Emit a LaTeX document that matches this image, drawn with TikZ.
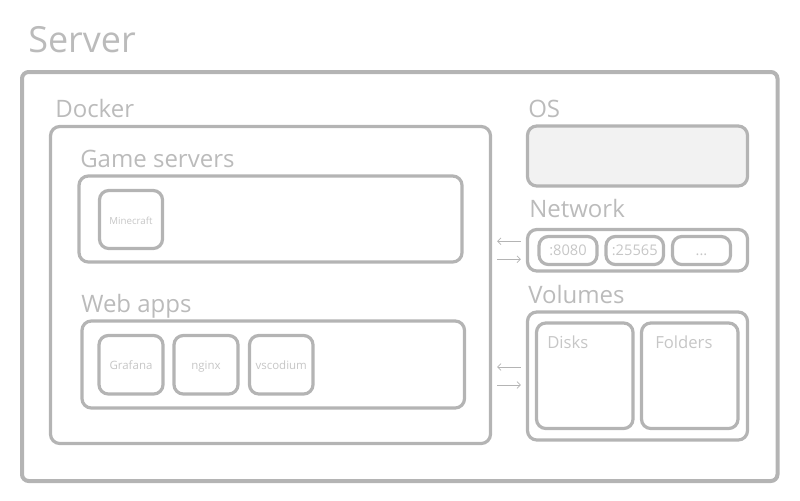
\documentclass[tikz,border=0pt]{standalone}
\usepackage{fontspec}
\setmainfont{Open Sans}
\usetikzlibrary{fit,calc,arrows.meta}

\definecolor{frame}{HTML}{B4B4B4}
\definecolor{label}{HTML}{BBBBBB}
\definecolor{smalltext}{HTML}{C6C6C6}
\definecolor{osfill}{HTML}{F2F2F2}

\tikzset{
  box/.style={draw=frame, line width=2.4pt, rounded corners=7pt, inner sep=0pt},
  title/.style={anchor=base west, inner sep=0pt, text=label, font=\fontsize{18}{20}\selectfont},
  applbl/.style={inner sep=0pt, text height=0.72em, text depth=0pt, text=smalltext, font=\fontsize{8.6}{10}\selectfont},
  portlbl/.style={applbl, font=\fontsize{11}{12}\selectfont},
  link/.style={draw=frame, line width=0.6pt, -{Straight Barb[length=2.5pt,width=5pt]}},
}

\begin{document}
\begin{tikzpicture}[x=0.75pt,y=0.75pt,yscale=-1,xscale=1]
            \useasboundingbox (0,0) rectangle (800,500); % set diagram size 800 x 500

            % Server
            \node (serverlbl) [title, font=\fontsize{27}{30}\selectfont] at (28,52) {Server}; % Text Node Server
            \node (server) [box, line width=3pt, rounded corners=5pt, fit={(22,72) (777.5,481)}] {}; % Outer frame

            % Docker
            \node (dockerlbl) [title] at (55,117) {Docker}; % Text Node Docker
            \node (docker) [box, fit={(50.5,126.5) (490.5,443.5)}] {}; % Frame

            % Game servers
            \node (gamelbl) [title] at (80,167) {Game servers}; % Text Node Game servers
            \node (game) [box, fit={(79,176) (462,262)}] {}; % Frame
            \node (minecraft) [box, fit={(99.5,190.5) (162.5,248.5)}] {};
            \node (minecraftlbl) [applbl, font=\fontsize{7.3}{8}\selectfont] at (minecraft) {Minecraft};

            % Web apps
            \node (weblbl) [title] at (81,312) {Web apps}; % Text Node Web apps
            \node (web) [box, fit={(82,321) (464.5,408)}] {}; % Frame
            \node (grafana) [box, fit={(99,335.5) (163,394)}] {};
            \node (nginx) [box, fit={(174,335.5) (238,394)}] {};
            \node (vscodium) [box, fit={(249.5,335.5) (313,394)}] {};
            \node (grafanalbl) [applbl] at (grafana) {Grafana};
            \node (nginxlbl) [applbl] at (nginx) {nginx};
            \node (vscodiumlbl) [applbl] at (vscodium) {vscodium};

            % OS
            \node (oslbl) [title] at (528,117) {OS}; % Text Node OS
            \node (os) [box, fill=osfill, fit={(527.5,126) (747.5,186)}] {}; % Frame

            % Network
            \node (netlbl) [title] at (529,217) {Network}; % Text Node Network
            \node (netbox) [box, fit={(527.5,229.5) (747.5,271)}] {}; % Frame
            \node (p8080) [box, fit={(539,236.5) (597,264.5)}] {};
            \node (p25565) [box, fit={(606,236.5) (663.5,264.5)}] {};
            \node (pmore) [box, fit={(672.5,236.5) (730.5,264.5)}] {};
            \node (p8080lbl) [portlbl] at (p8080) {:8080};
            \node (p25565lbl) [portlbl] at (p25565) {:25565};
            \node (pmorelbl) [portlbl] at (pmore) {...};

            % Volumes
            \node (vollbl) [title] at (528,303) {Volumes}; % Text Node Volumes
            \node (volbox) [box, fit={(527.5,312) (747.5,440)}] {}; % Frame
            \node (disks) [box, fit={(536.5,323) (633,428.5)}] {}; % Disks
            \node (folders) [box, fit={(641.5,323) (738,428.5)}] {}; % Folders
            \node (diskslbl) [title, text=smalltext, font=\fontsize{12.5}{14}\selectfont] at (547,348) {Disks};
            \node (folderslbl) [title, text=smalltext, font=\fontsize{12.5}{14}\selectfont] at (655,348) {Folders};

            % Links Docker <-> Network, Volumes
            \draw[link] ($(netbox.west)+(-5,-9)$) -- ($(docker.east |- netbox.west)+(5,-9)$);
            \draw[link] ($(docker.east |- netbox.west)+(5,9)$) -- ($(netbox.west)+(-5,9)$);
            \draw[link] ($(volbox.west)+(-5,-9)$) -- ($(docker.east |- volbox.west)+(5,-9)$);
            \draw[link] ($(docker.east |- volbox.west)+(5,9)$) -- ($(volbox.west)+(-5,9)$);
        \end{tikzpicture}
\end{document}
